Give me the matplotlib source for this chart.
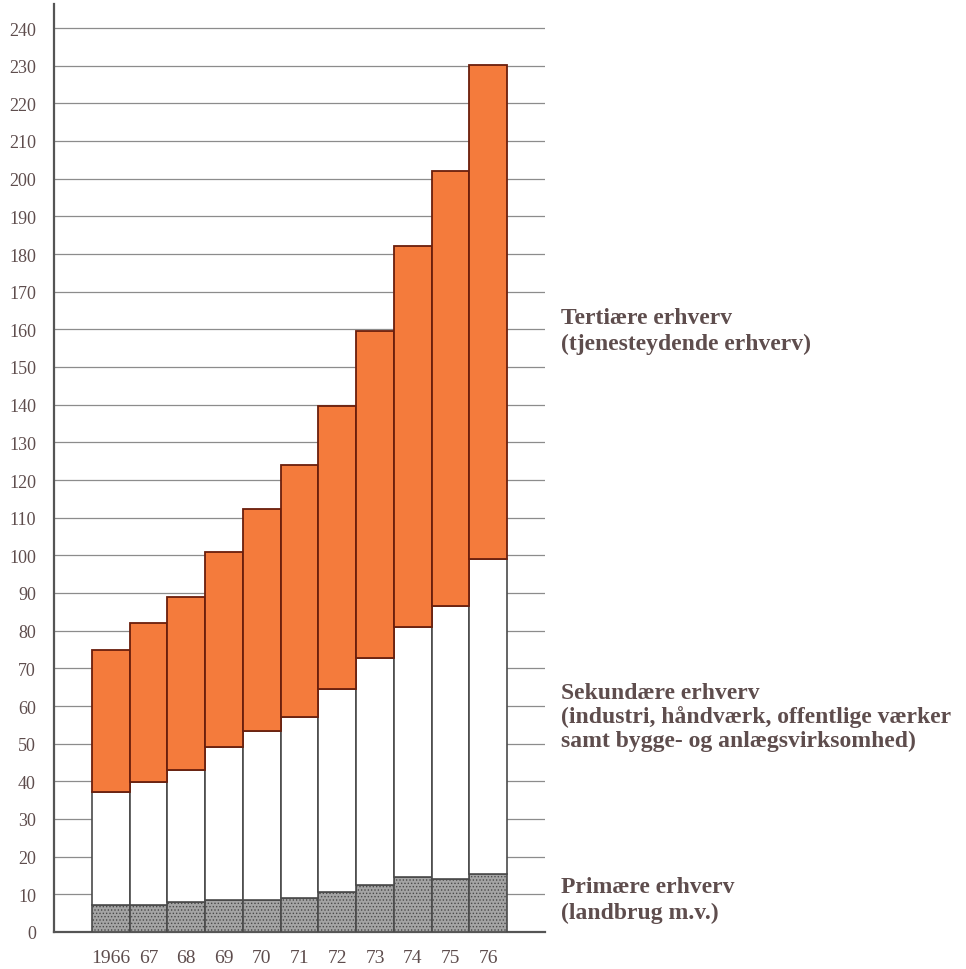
import matplotlib
matplotlib.use("Agg")
import matplotlib.pyplot as plt
import numpy as np

years = ["1966", "67", "68", "69", "70", "71", "72", "73", "74", "75", "76"]
primary = [7.2, 7.2, 7.9, 8.6, 8.6, 9.0, 10.5, 12.6, 14.7, 14.1, 15.4]
secondary = [30.0, 32.5, 35.1, 40.4, 44.7, 48.0, 54.0, 60.2, 66.2, 72.5, 83.6]
tertiary = [37.6, 42.3, 46.0, 52.0, 59.0, 67.0, 75.2, 86.7, 101.1, 115.4, 131.3]
yticks = list(range(0, 241, 10))

labels = [
    ("Tertiære erhverv\n(tjenesteydende erhverv)", 159.8, 1.3),
    ("Sekundære erhverv\n(industri, håndværk, offentlige værker\nsamt bygge- og anlægsvirksomhed)", 57.3, 1.15),
    ("Primære erhverv\n(landbrug m.v.)", 8.6, 1.3),
]

serif = ["Liberation Serif", "DejaVu Serif"]
txtcol = "#5e4d4d"
plt.rcParams['hatch.color'] = "#6a6a6a"
plt.rcParams['hatch.linewidth'] = 0.6

fig = plt.figure(figsize=(9.66, 9.70), dpi=100)
ax = fig.add_axes([54/966, 1-933/970, (545-54)/966, (933-5)/970])

x = np.arange(1, len(years) + 1)
p = np.array(primary)
s = np.array(secondary)
t = np.array(tertiary)

ax.bar(x, p, width=1.0, color="#a4a4a4", edgecolor="#4a4a4a", linewidth=1.2,
       hatch=".....", zorder=3)
ax.bar(x, s, bottom=p, width=1.0, color="white", edgecolor="#4a4a4a",
       linewidth=1.2, zorder=3)
ax.bar(x, t, bottom=p + s, width=1.0, color="#f47b3c", edgecolor="#6a1e0c",
       linewidth=1.3, zorder=4)

ax.set_xlim(-0.5, len(years) + 1.5)
ax.set_ylim(0, (933 - 5) / (904 / 240))

ax.set_yticks(yticks)
ax.set_yticklabels([str(v) for v in yticks], family=serif, fontsize=13,
                   color=txtcol)
ax.set_xticks(x)
ax.set_xticklabels(years, family=serif, fontsize=14, color=txtcol)
ax.tick_params(axis="y", length=0, pad=13)
ax.tick_params(axis="x", length=0, pad=12)
ax.yaxis.grid(True, color="#8c8c8c", linewidth=0.9, zorder=0)
ax.set_axisbelow(True)
for sp in ["top", "right"]:
    ax.spines[sp].set_visible(False)
ax.spines["left"].set_color("#555555")
ax.spines["left"].set_linewidth(1.6)
ax.spines["bottom"].set_color("#555555")
ax.spines["bottom"].set_linewidth(1.6)

for text, yv, ls in labels:
    ax.annotate(text, xy=(561/966, yv), xycoords=("figure fraction", "data"),
                ha="left", va="center", family=serif, fontsize=17,
                fontweight="bold", color=txtcol, linespacing=ls,
                annotation_clip=False)

fig.savefig("out.png", dpi=100, facecolor="white")
